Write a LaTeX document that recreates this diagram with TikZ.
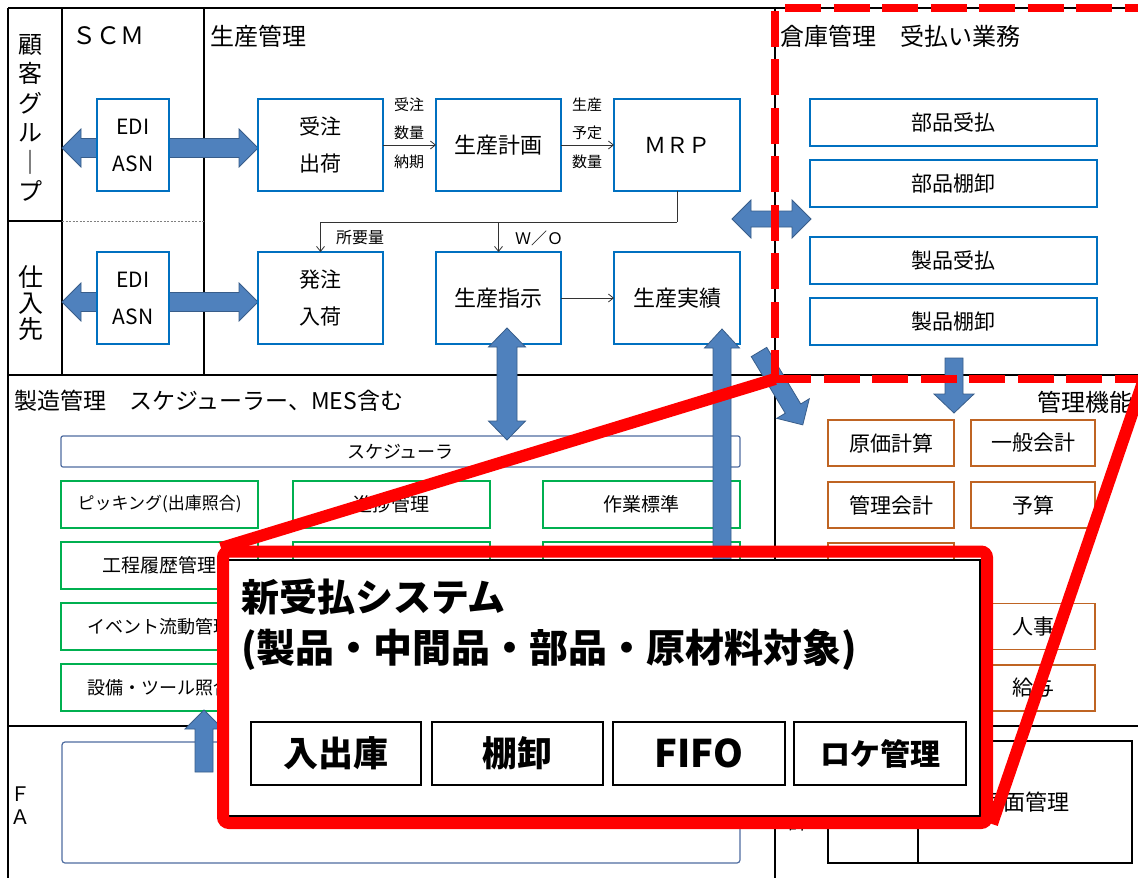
\documentclass[tikz,border=0pt]{standalone}
\usepackage{fontspec}
\setmainfont{Noto Sans CJK JP}
\usetikzlibrary{arrows.meta}
\definecolor{boxblue}{RGB}{0,112,192}
\definecolor{arrowfill}{RGB}{79,129,189}
\definecolor{arrowline}{RGB}{56,93,138}
\definecolor{grn}{RGB}{0,176,80}
\definecolor{brn}{RGB}{191,100,35}
\definecolor{schblue}{RGB}{79,109,160}
\definecolor{callred}{RGB}{255,0,0}
\newcommand\fs[1]{\fontsize{#1}{#1}\selectfont}
% single block arrow: start, angle, length, shaft half width, head half width
\newcommand\BlockArrowS[5]{%
  \begin{scope}[shift={#1},rotate=#2]
  \filldraw[bigarrow] (0,-#4) -- ({#3-19},-#4) -- ({#3-19},-#5) -- (#3,0) -- ({#3-19},#5) -- ({#3-19},#4) -- (0,#4) -- cycle;
  \end{scope}}
% double block arrow
\newcommand\BlockArrowD[5]{%
  \begin{scope}[shift={#1},rotate=#2]
  \filldraw[bigarrow] (0,0) -- (19,-#5) -- (19,-#4) -- ({#3-19},-#4) -- ({#3-19},-#5) -- (#3,0) -- ({#3-19},#5) -- ({#3-19},#4) -- (19,#4) -- (19,#5) -- cycle;
  \end{scope}}
\begin{document}
\begin{tikzpicture}[x=1pt,y=-1pt,
  every node/.style={inner sep=0pt, outer sep=0pt},
  frame/.style={line width=1.6pt, black},
  bluebox/.style={draw=boxblue, line width=2pt, fill=white, align=center, font=\fontsize{21}{37}\selectfont},
  whbox/.style={draw=boxblue, line width=2pt, fill=white, font=\fs{21}, minimum width=287pt, minimum height=47pt},
  grnbox/.style={draw=grn, line width=1.6pt, fill=white, minimum width=197pt, minimum height=47pt, font=\fs{19}},
  brnbox/.style={draw=brn, line width=1.6pt, fill=white, minimum height=46pt, font=\fs{21}},
  bigarrow/.style={fill=arrowfill, draw=arrowline, line width=0.8pt},
  thinline/.style={draw=black!80, line width=0.8pt},
  thinarr/.style={thinline, -{Straight Barb[length=5pt,width=8pt]}},
  lbl/.style={font=\fontsize{15}{28.5}\selectfont, align=center},
  head/.style={font=\fs{24}, anchor=west},
  calloutbox/.style={draw=black, line width=2pt, fill=white, minimum width=170pt, minimum height=63pt, font=\bfseries\fs{35}}
]
\useasboundingbox (0,0) rectangle (1138,878);
\fill[white] (0,0) rectangle (1138,878);

% frame
\draw[frame] (8,8) -- (1150,8);
\draw[frame] (8,8) -- (8,885);
\draw[frame] (62,8) -- (62,375);
\draw[frame] (204,8) -- (204,375);
\draw[frame] (8,221) -- (62,221);
\draw[gray, line width=0.8pt, dash pattern=on 2pt off 1.5pt] (62,221) -- (204,221);
\draw[frame] (8,375) -- (1150,375);
\draw[frame] (775,8) -- (775,885);
\draw[frame] (8,726) -- (1150,726);

% headings
\node[head] (scm) at (72,36) {ＳＣＭ};
\node[head] (pm) at (210,36) {生産管理};
\node[head] (wh) at (780,36) {倉庫管理　受払い業務};
\node[head, font=\fs{23}] (mfg) at (14,401) {製造管理　スケジューラー、MES含む};
\node[head] (acc) at (1037,402) {管理機能};
\node[align=center, font=\fontsize{24}{29.4}\selectfont] (cust) at (31,118) {顧\\客\\グ\\ル\\｜\\プ};
\node[align=center, font=\fontsize{25}{26}\selectfont] (sup) at (31,303) {仕\\入\\先};
\node[align=center, font=\fontsize{20}{23}\selectfont] (fa) at (20,806) {Ｆ\\Ａ};

% block arrows behind EDI boxes
\BlockArrowD{(62,148)}{0}{196}{9.5}{19}
\BlockArrowD{(62,302)}{0}{196}{9.5}{19}

% production boxes
\node[bluebox, minimum width=72pt, minimum height=92pt] (edi1) at (133,145) {EDI\\ASN};
\node[bluebox, minimum width=72pt, minimum height=92pt] (edi2) at (133,298) {EDI\\ASN};
\node[bluebox, minimum width=125pt, minimum height=92pt] (jc) at (320.5,145) {受注\\出荷};
\node[bluebox, minimum width=125pt, minimum height=92pt] (hc) at (320.5,298) {発注\\入荷};
\node[bluebox, minimum width=125pt, minimum height=92pt, font=\fs{22}] (plan) at (498.5,145) {生産計画};
\node[bluebox, minimum width=126pt, minimum height=92pt, font=\fs{22}] (mrp) at (677,145) {ＭＲＰ};
\node[bluebox, minimum width=125pt, minimum height=92pt, font=\fs{22}] (inst) at (498.5,298) {生産指示};
\node[bluebox, minimum width=126pt, minimum height=92pt, font=\fs{22}] (res) at (677,298) {生産実績};

% thin connectors
\draw[thinarr] (jc.east) -- (plan.west);
\draw[thinarr] (plan.east) -- (mrp.west);
\coordinate (j1) at (677,222);
\draw[thinline] (mrp.south) -- (j1);
\draw[thinarr] (j1) -- (hc.north |- j1) -- (hc.north);
\draw[thinarr] (inst.north |- j1) -- (inst.north);
\draw[thinarr] (inst.east) -- (res.west);
\node[lbl] (l1) at (409,133) {受注\\数量\\納期};
\node[lbl] (l2) at (587,133) {生産\\予定\\数量};
\node[font=\fs{16}] (l3) at (360,238) {所要量};
\node[font=\fs{16}] (l4) at (539,238) {Ｗ／Ｏ};

% warehouse
\node[whbox] (w1) at (953.5,122.5) {部品受払};
\node[whbox] (w2) at (953.5,183.5) {部品棚卸};
\node[whbox] (w3) at (953.5,260) {製品受払};
\node[whbox] (w4) at (953.5,321) {製品棚卸};

% manufacturing
\node[draw=schblue, line width=1.2pt, rounded corners=2pt, fill=white, minimum width=679pt, minimum height=31pt, font=\fs{18}] (sch) at (400.5,451.5) {スケジューラ};
\node[grnbox, font=\fs{17}] (g11) at (159.5,504.5) {ピッキング(出庫照合)};
\node[grnbox] (g12) at (391.5,504.5) {進捗管理};
\node[grnbox] (g13) at (641.5,504.5) {作業標準};
\node[grnbox] (g21) at (159.5,565.5) {工程履歴管理};
\node[grnbox] (g22) at (391.5,565.5) {};
\node[grnbox] (g23) at (641.5,565.5) {};
\node[grnbox, font=\fs{18}] (g31) at (159.5,626.5) {イベント流動管理};
\node[grnbox] (g32) at (391.5,626.5) {};
\node[grnbox] (g33) at (641.5,626.5) {};
\node[grnbox, font=\fs{18}] (g41) at (159.5,687.5) {設備・ツール照合};
\node[grnbox] (g42) at (391.5,687.5) {};
\node[grnbox] (g43) at (641.5,687.5) {};

% accounting
\node[brnbox, minimum width=126pt] (b11) at (891,443) {原価計算};
\node[brnbox, minimum width=124pt] (b12) at (1033,443) {一般会計};
\node[brnbox, minimum width=126pt] (b21) at (891,505) {管理会計};
\node[brnbox, minimum width=124pt] (b22) at (1033,505) {予算};
\node[brnbox, minimum width=126pt] (b31) at (891,566) {};
\node[brnbox, minimum width=126pt] (b41) at (891,626.5) {};
\node[brnbox, minimum width=124pt] (b42) at (1033,626.5) {人事};
\node[brnbox, minimum width=126pt] (b51) at (891,688) {};
\node[brnbox, minimum width=124pt] (b52) at (1033,688) {給与};

% bottom
\node[draw=schblue, line width=1.2pt, rounded corners=3pt, minimum width=678pt, minimum height=121pt] (fabox) at (401,802.5) {};
\node[draw, line width=1.6pt, minimum width=90pt, minimum height=122pt] (fr1) at (873,802) {};
\node[draw, line width=1.6pt, minimum width=214pt, minimum height=122pt, font=\fs{22}] (fr2) at (1025,802) {画面管理};
\node[font=\fs{20}] (kei) at (798,822) {計};

% block arrows on top
\BlockArrowD{(732,219)}{0}{79}{8}{19}
\BlockArrowD{(507,328)}{-90}{112}{10}{18.5}
\BlockArrowS{(722,720)}{90}{391}{9}{17.5}
\BlockArrowS{(954,358)}{-90}{55}{9}{20}
\BlockArrowS{(204,772)}{90}{62}{9}{19}
\BlockArrowS{(759,352)}{-59}{85}{9}{19}

% red dashed region
\draw[callred, line width=8pt, dash pattern=on 36pt off 12.5pt, dash phase=7pt] (775,379) -- (775,8) -- (1150,8);
\draw[callred, line width=8pt, dash pattern=on 36pt off 12.5pt] (775,379) -- (1150,379);

% callout lines
\draw[callred, line width=12pt] (221,548) -- (775,379);
\draw[callred, line width=12pt] (992,824) -- (1144,379);

% callout
\node[draw=black, line width=2pt, fill=white, minimum width=752pt, minimum height=256pt] (cw) at (604,688) {};
\draw[callred, line width=12pt, rounded corners=6pt] (223,551.5) rectangle (987,823);
\node[font=\bfseries\fs{38}, anchor=west] (t1) at (241,597) {新受払システム};
\node[font=\bfseries\fs{39}, anchor=west] (t2) at (241,650) {(製品・中間品・部品・原材料対象)};
\node[calloutbox] (c1) at (336,753.5) {入出庫};
\node[calloutbox, minimum width=171pt] (c2) at (517.5,753.5) {棚卸};
\node[calloutbox, minimum width=172pt, font=\bfseries\fs{38}] (c3) at (699,753.5) {FIFO};
\node[calloutbox, minimum width=172pt, font=\bfseries\fs{30}] (c4) at (880,753.5) {ロケ管理};
\end{tikzpicture}
\end{document}
